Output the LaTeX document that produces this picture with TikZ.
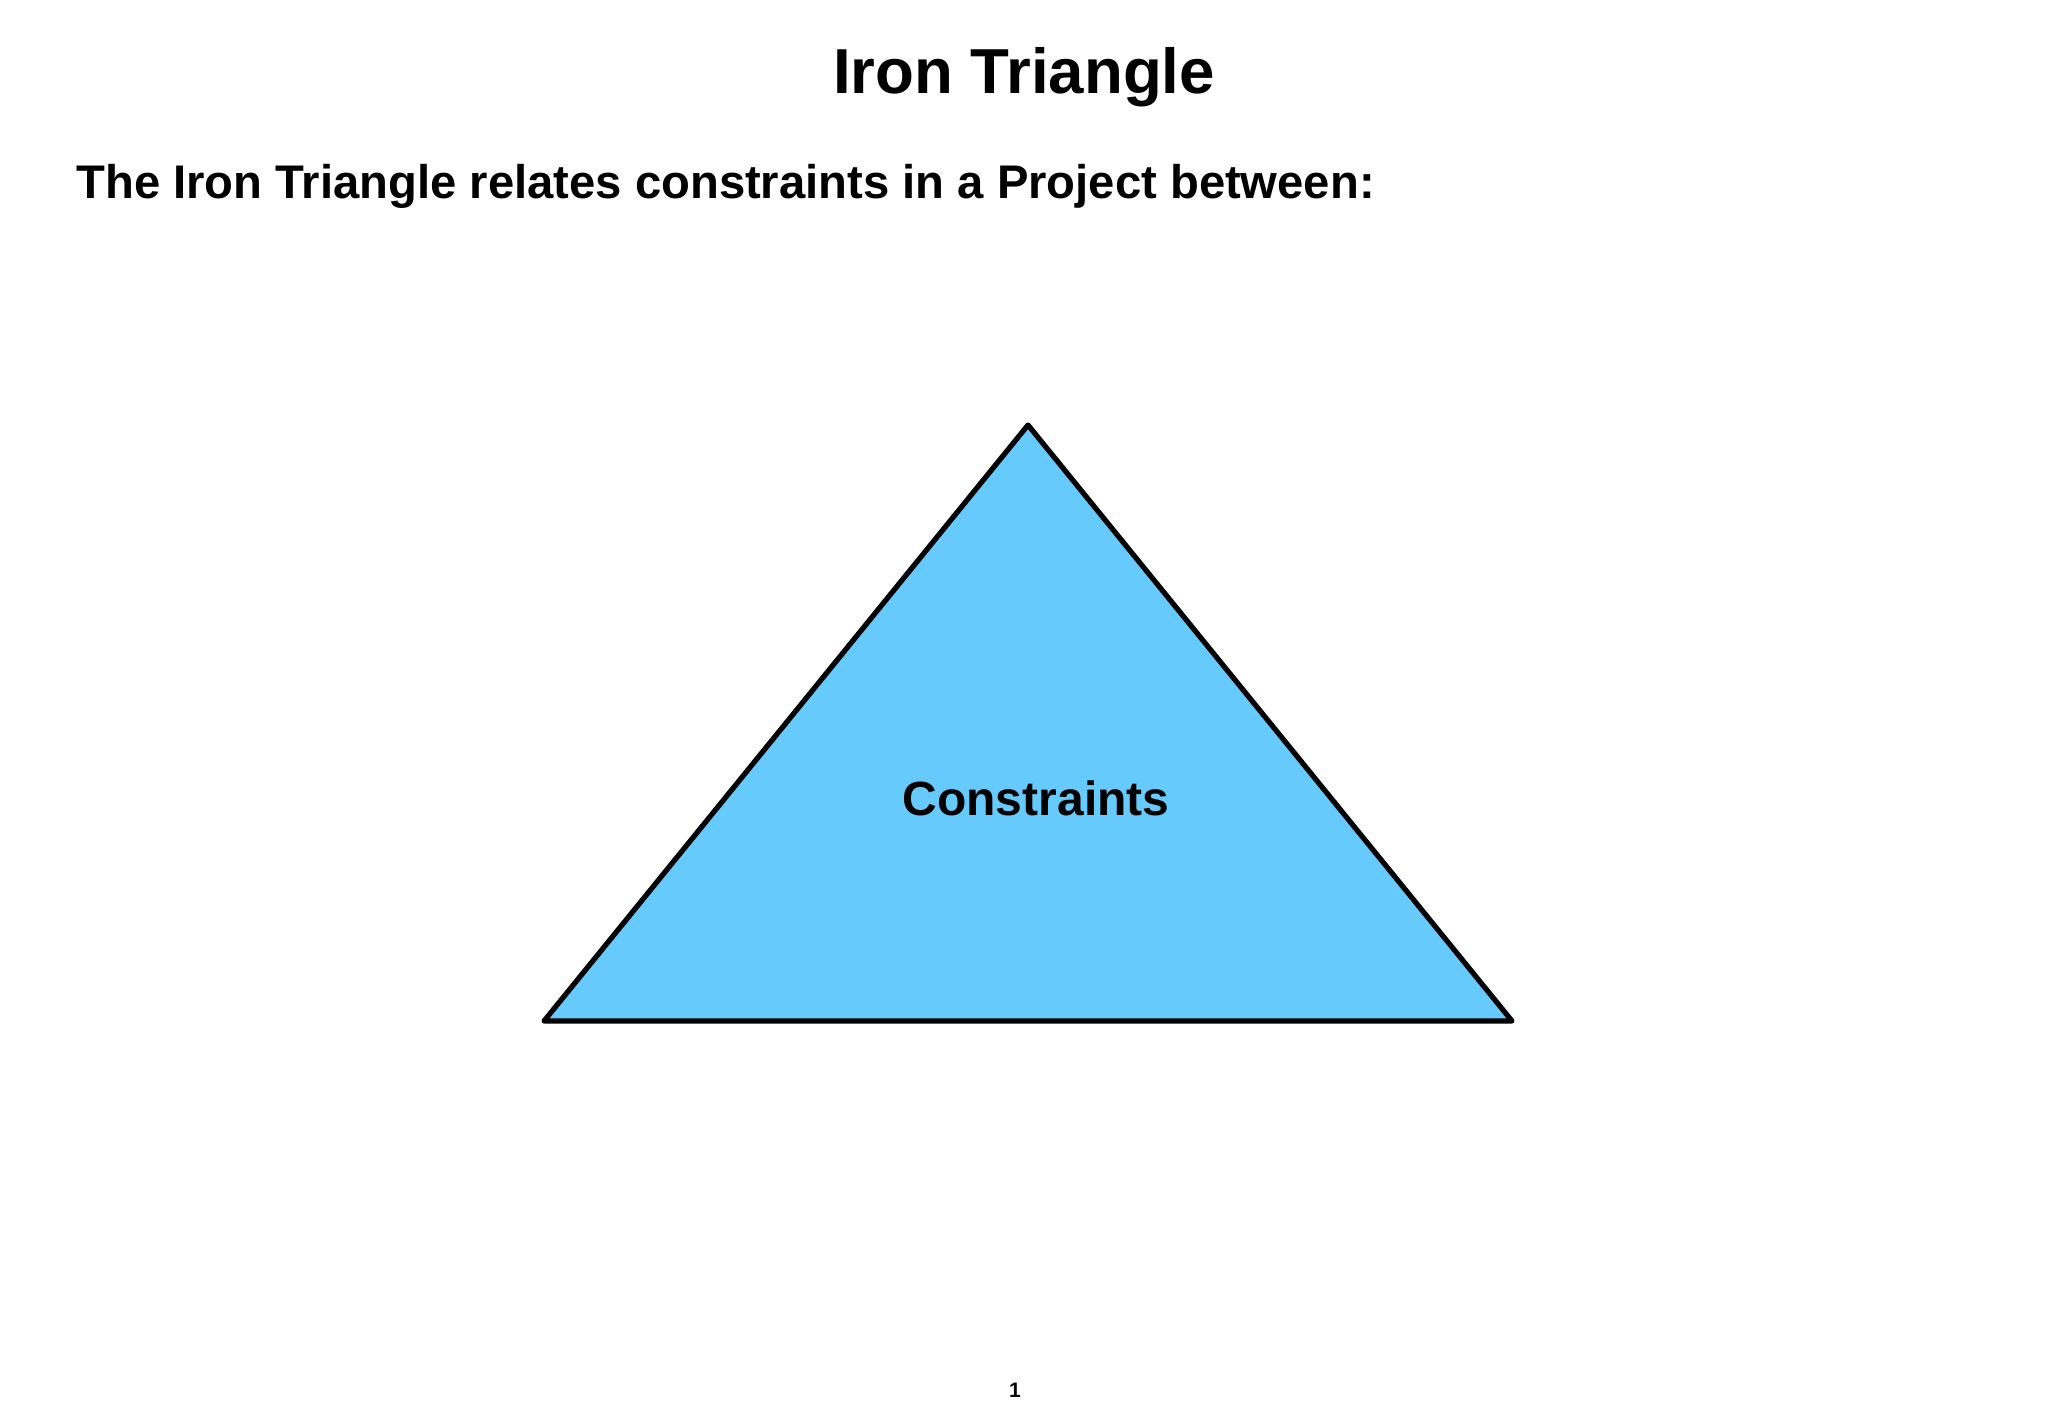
\documentclass[tikz,border=0pt]{standalone}
\usepackage{fontspec}
\setmainfont{Liberation Sans}
\begin{document}
\begin{tikzpicture}[x=0.5pt,y=-0.5pt,
  txt/.style={inner sep=0pt,font=\bfseries},
  tri/.style={draw=black,fill=tribg,line width=2.6pt,line join=round,line cap=round}]
\definecolor{tribg}{HTML}{66CAFC}
\useasboundingbox (0,0) rectangle (2048,1418);
\coordinate (A) at (1028,425);
\coordinate (B) at (544,1021);
\coordinate (C) at (1512,1021);
\draw[tri] (A) -- (B) -- (C) -- cycle;
\node[txt,anchor=base,font=\bfseries\fontsize{31.8}{38}\selectfont] (title) at (1024,94) {Iron Triangle};
\node[txt,anchor=base west,font=\bfseries\fontsize{23.6}{28}\selectfont] (sub) at (76,198) {The Iron Triangle relates constraints in a Project between:};
\node[txt,anchor=base,font=\bfseries\fontsize{24}{29}\selectfont] (lbl) at (1036,815) {Constraints};
\node[txt,anchor=base,font=\bfseries\fontsize{10.5}{12}\selectfont] (pg) at (1015,1397) {1};
\end{tikzpicture}
\end{document}
